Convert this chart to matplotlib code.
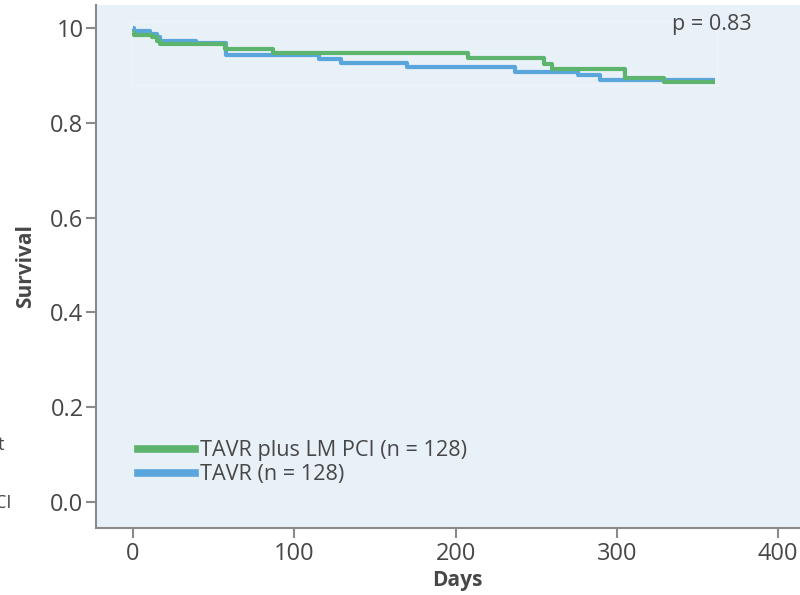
import matplotlib
matplotlib.use("Agg")
import matplotlib.pyplot as plt
from matplotlib.lines import Line2D
from matplotlib.patches import Rectangle

plt.rcParams['font.family'] = ['Open Sans', 'DejaVu Sans']

# Kaplan-Meier step data
green_days = [0, 0.5, 11.6, 14.7, 16.7, 57, 87, 208, 255, 260, 305, 329, 361]
green_surv = [0.992, 0.986, 0.980, 0.973, 0.966, 0.956, 0.948, 0.936, 0.924, 0.914, 0.895, 0.885, 0.885]
blue_days = [0, 0.5, 10.5, 14.7, 16.7, 39, 57.7, 115, 129, 170, 237, 276, 289.5, 361]
blue_surv = [1.0, 0.993, 0.987, 0.980, 0.973, 0.968, 0.944, 0.934, 0.926, 0.917, 0.908, 0.901, 0.890, 0.890]

series_labels = ["TAVR plus LM PCI (n = 128)", "TAVR (n = 128)"]
x_ticks = [0, 100, 200, 300, 400]
y_ticks = [0.0, 0.2, 0.4, 0.6, 0.8, 1.0]
y_tick_labels = ["0.0", "0.2", "0.4", "0.6", "0.8", "10"]
p_text = "p = 0.83"

GREEN = '#5db46d'
BLUE = '#5aa6dc'
BG = '#e8f0f8'
TXT = '#474747'
SPINE = '#8a8a8a'

fig = plt.figure(figsize=(8, 5.95), dpi=100)
ax = fig.add_axes([0.12, 0.1126, 0.903, 0.879])
ax.set_facecolor(BG)

# faint inner box spanning the curves' extent
lo = min(min(green_surv), min(blue_surv))
hi = max(max(green_surv), max(blue_surv))
ax.add_patch(Rectangle((min(green_days) - 1.5, lo - 0.005), max(green_days) - min(green_days) + 2.5,
                       hi - lo + 0.02, facecolor='none', edgecolor='#eef4fb', lw=1.0, zorder=1))

ax.step(green_days, green_surv, where='post', color=GREEN, lw=3.0, zorder=3, solid_capstyle='butt')
ax.step(blue_days, blue_surv, where='post', color=BLUE, lw=3.0, zorder=2, solid_capstyle='butt')

ax.set_xlim(-23, 425)
ax.set_ylim(-0.055, 1.0485)
ax.set_xticks(x_ticks)
ax.set_xticklabels([str(t) for t in x_ticks])
ax.set_yticks(y_ticks)
ax.set_yticklabels(y_tick_labels)

for s in ['top', 'right']:
    ax.spines[s].set_visible(False)
for s in ['left', 'bottom']:
    ax.spines[s].set_color(SPINE)
    ax.spines[s].set_linewidth(1.5)

ax.tick_params(axis='both', colors=SPINE, labelcolor=TXT, labelsize=17, length=7, width=1.5)
ax.tick_params(axis='x', pad=3)
ax.tick_params(axis='y', pad=2)

ax.set_xlabel("Days", fontsize=15, fontweight='bold', color=TXT, labelpad=3)
ax.set_ylabel("Survival", fontsize=15, fontweight='bold', color=TXT, labelpad=10)

ax.text(0.852, 0.963, p_text, transform=ax.transAxes, fontsize=15.5, color=TXT,
        ha='center', va='center')

handles = [Line2D([], [], color=GREEN, lw=5.5), Line2D([], [], color=BLUE, lw=5.5)]
leg = ax.legend(handles, series_labels, loc='lower left', bbox_to_anchor=(0.046, 0.065),
                frameon=False, fontsize=15.6, handlelength=2.65, handletextpad=0.2,
                labelspacing=0.14, borderaxespad=0)
for t in leg.get_texts():
    t.set_color(TXT)

# cropped fragments from a neighbouring panel
fig.text(5 / 800, 1 - 445 / 595, "Point", fontsize=13, color=TXT, ha='right', va='center')
fig.text(11 / 800, 1 - 503 / 595, "95% CI", fontsize=13, color=TXT, ha='right', va='center')

fig.savefig("out.png", dpi=100, facecolor='white')
